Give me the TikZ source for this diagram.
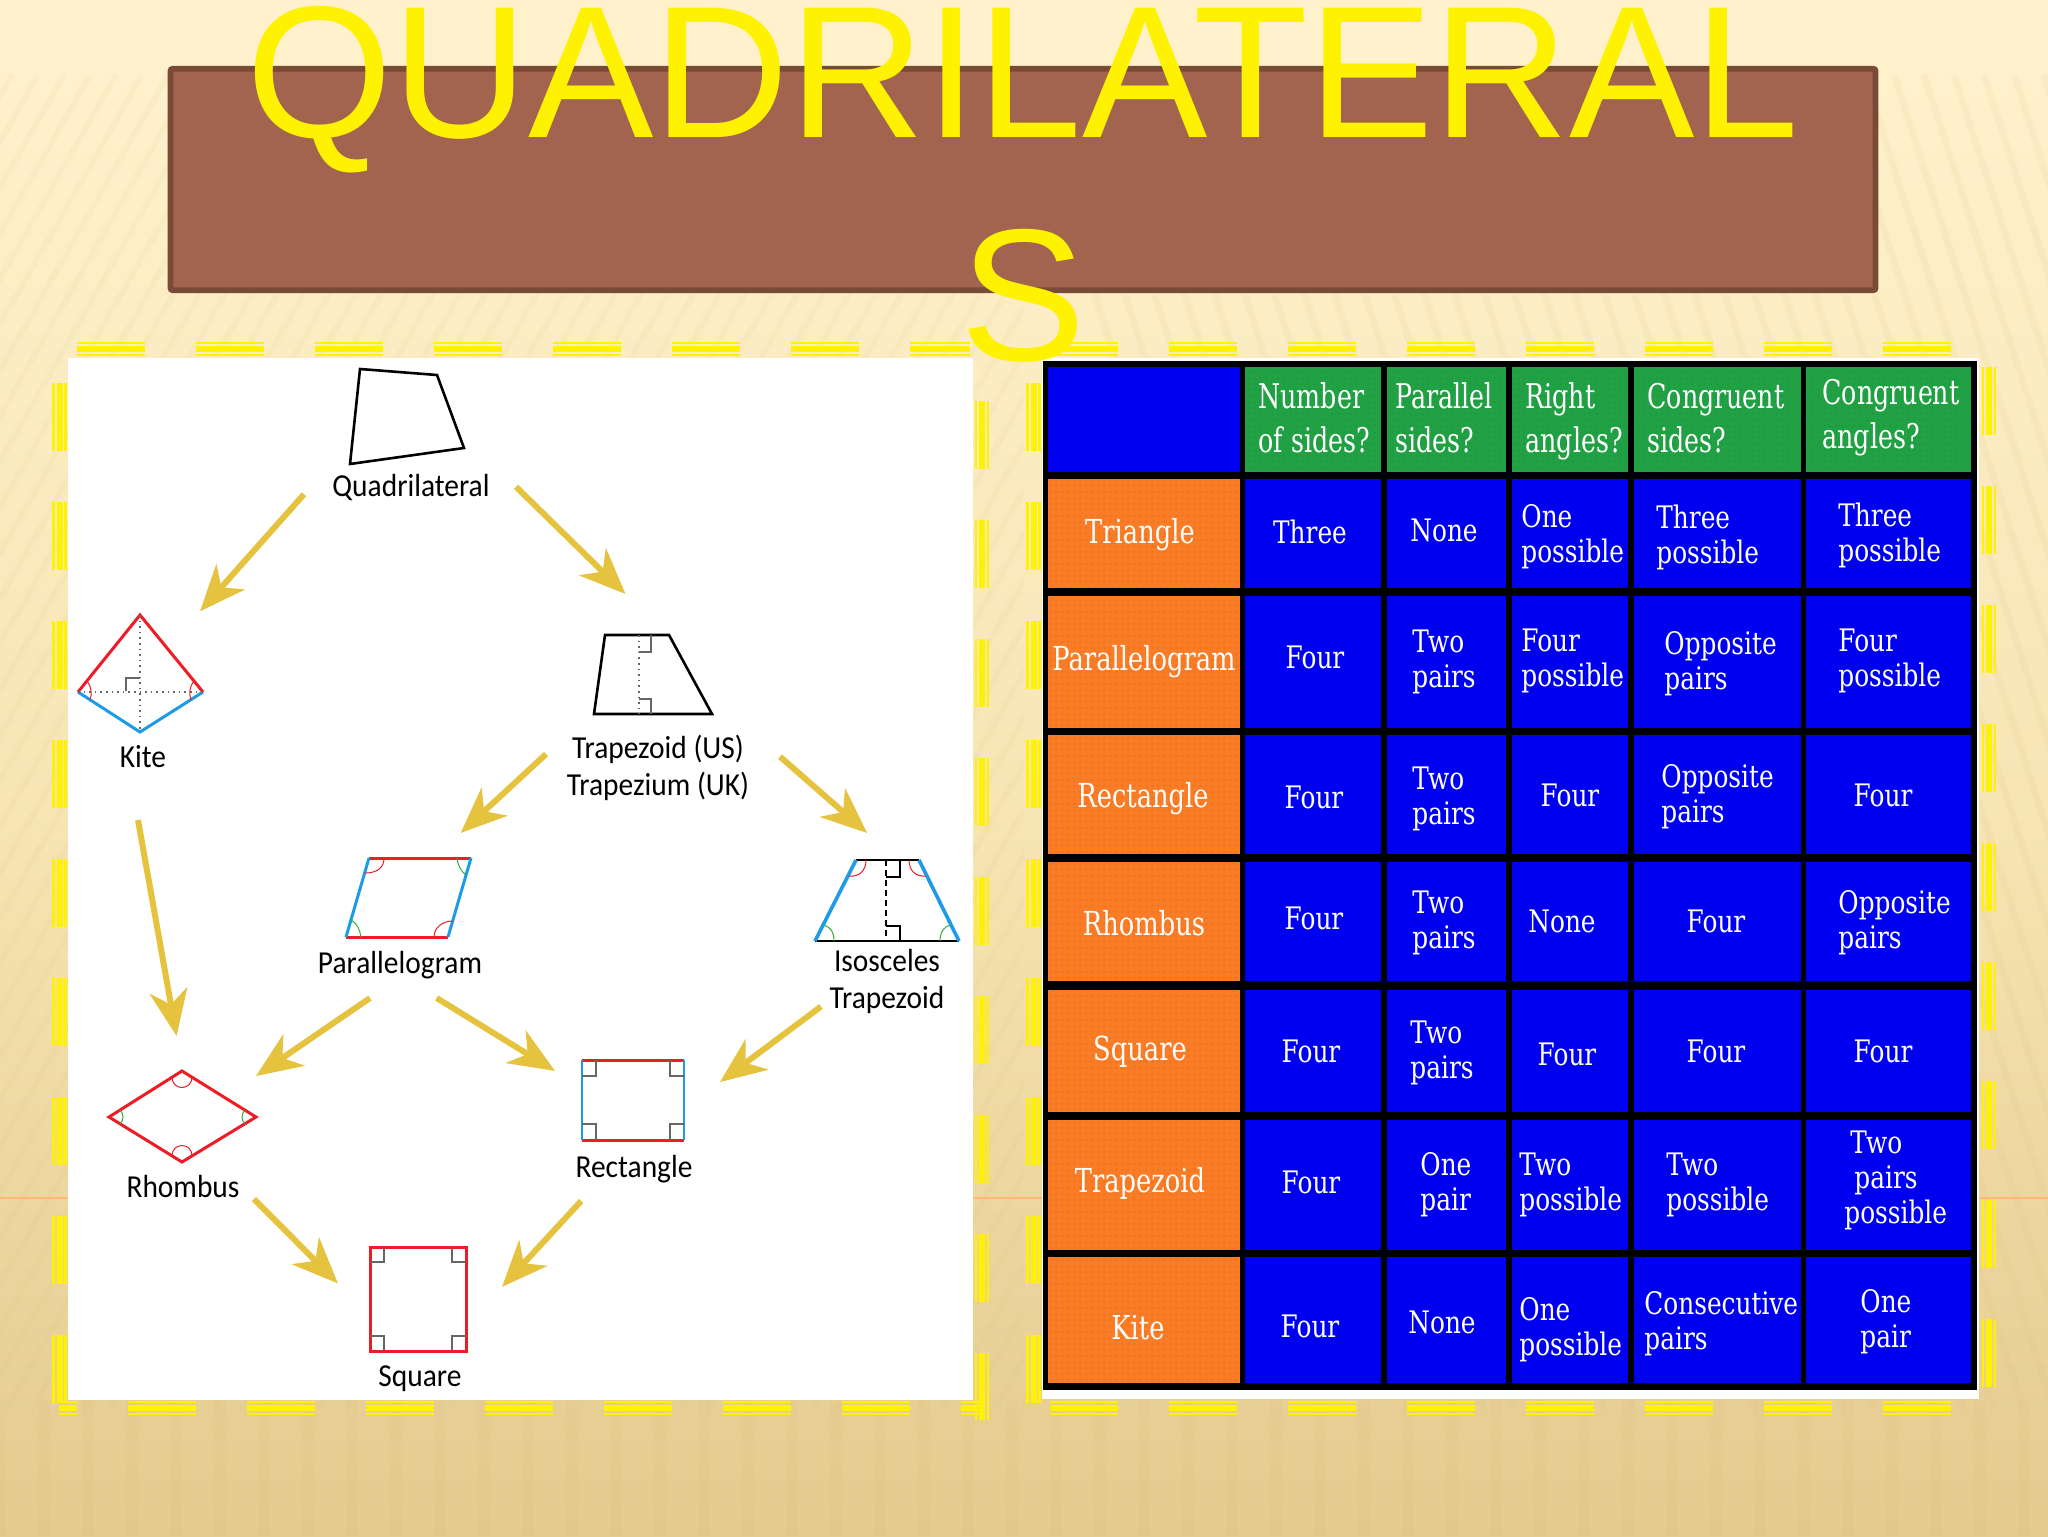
\documentclass[tikz,border=0pt]{standalone}
\usepackage{fontspec}
\usepackage{xcolor}
\usetikzlibrary{arrows.meta,patterns}
\setmainfont{Liberation Sans}
\newfontfamily\cellfont[FakeStretch=0.8]{DejaVu Serif}
\newfontfamily\headfont[FakeStretch=0.745]{DejaVu Serif}
\newfontfamily\sidefont[FakeStretch=0.78]{DejaVu Serif}
\newfontfamily\handfont[FakeStretch=0.92]{Carlito}
\definecolor{creamTop}{HTML}{FEF1CC}
\definecolor{creamMid}{HTML}{F7E5B4}
\definecolor{sandLow}{HTML}{E4CB8E}
\definecolor{stripeTan}{HTML}{D8BC78}
\definecolor{boxBrown}{HTML}{A2634F}
\definecolor{boxEdge}{HTML}{794A36}
\definecolor{cellBlue}{HTML}{0000F0}
\definecolor{cellGreen}{HTML}{22A045}
\definecolor{cellOrange}{HTML}{FA7C26}
\definecolor{flowGold}{HTML}{E6C33E}
\definecolor{edgeRed}{HTML}{EE1C25}
\definecolor{edgeBlue}{HTML}{1E9BE6}
\definecolor{arcGreen}{HTML}{2FAE3A}
\tikzset{
  figbox/.style={draw=none,inner sep=0pt,outer sep=0pt},
  flowarrow/.style={-{Stealth[length=23pt,width=19pt,inset=7pt]},line width=3pt,flowGold},
  framedash/.style={yellow,dash pattern=on 34pt off 25.5pt},
  gridcell/.style={fill=cellBlue,draw=none},
  celltext/.style={white,font=\cellfont\fontsize{15.5}{17.5}\selectfont,align=left,inner sep=0pt},
  headtext/.style={white,anchor=west,font=\headfont\fontsize{17}{22}\selectfont,align=left,inner sep=0pt},
  sidetext/.style={white,font=\sidefont\fontsize{16.5}{18}\selectfont,inner sep=0pt},
  handtext/.style={black,font=\handfont\fontsize{16}{18.5}\selectfont,align=center,inner sep=0pt},
  titletext/.style={yellow,font=\fontsize{94}{94}\selectfont,inner sep=0pt,anchor=base},
  redline/.style={edgeRed,line width=1.5pt},
  blueline/.style={edgeBlue,line width=1.5pt},
  blackline/.style={black,line width=1.3pt},
  redarc/.style={edgeRed,line width=.5pt},
  greenarc/.style={arcGreen,line width=.5pt},
  markline/.style={black!60,line width=.7pt},
}
\begin{document}
\begin{tikzpicture}[x=0.5pt,y=-0.5pt]
    \useasboundingbox (0,0) rectangle (2048,1536);
    \fill[creamTop] (0,0) rectangle (2048,72);
    \shade[top color=creamTop,bottom color=sandLow,middle color=creamMid] (0,72) rectangle (2048,1536);
    % sand stripes
    \begin{scope}
        \clip (0,75) rectangle (1024,1410);
        \foreach \sx in {-800,-774,...,1024} {
            \draw[stripeTan,opacity=.08,line width=3pt] (\sx,1410) -- ++(760,-1335);
        }
    \end{scope}
    \begin{scope}
        \clip (1024,75) rectangle (2048,1410);
        \foreach \sx in {1024,1054,...,2048} {
            \draw[stripeTan,opacity=.1,line width=3.5pt] (\sx,75) -- ++(430,1335);
        }
    \end{scope}
    \foreach \sx in {0,44,...,2040} {
        \draw[stripeTan,opacity=.12,line width=6pt] (\sx,1536) -- (\sx,1400);
    }
    \draw[orange!55,line width=.6pt] (0,1198) -- (2048,1198);

    % title box
    \node[figbox,fill=boxBrown,draw=boxEdge,line width=2.8pt,rounded corners=1pt,minimum width=852.5pt,minimum height=110.7pt] (titlebox) at (1023,179.5) {};

    % frames
    \foreach \off/\wid in {-6/1.4pt,0/3pt,6/1.4pt} {
        \draw[framedash,line width=\wid] (77,349+\off) -- (970,349+\off);
        \draw[framedash,dash phase=25pt,line width=\wid] (59,1408+\off) -- (985,1408+\off);
        \draw[framedash,line width=\wid] (59.5+\off,383) -- (59.5+\off,1415);
        \draw[framedash,line width=\wid] (982+\off,401) -- (982+\off,1420);
        \draw[framedash,line width=\wid] (1050,349+\off) -- (1960,349+\off);
        \draw[framedash,line width=\wid] (1050,1408+\off) -- (1960,1408+\off);
        \draw[framedash,line width=\wid] (1033.5+\off,383) -- (1033.5+\off,1415);
        \draw[framedash,line width=\wid] (1989+\off,367) -- (1989+\off,1410);
    }
    \fill[white] (68,358) rectangle (973,1400);
    \fill[white] (1042,358) rectangle (1979,1399);

    % left figures
    \draw[blackline] (360,369) -- (437,375) -- (464,448) -- (350,464) -- cycle;
    \node[handtext] (quadLabel) at (411,488) {Quadrilateral};
    \node[figbox,minimum width=106pt,minimum height=68pt] (quad) at (410,428) {};

    \draw[redline] (78,692) -- (140,615) -- (203,692);
    \draw[blueline] (78,692) -- (140,732) -- (203,692);
    \draw[black!60,dotted,line width=.8pt] (140,615) -- (140,732);
    \draw[black!60,dotted,line width=.8pt] (78,692) -- (203,692);
    \draw[markline] (126,691) -- (126,678) -- (140,678);
    \draw[redarc] (87,681) .. controls (92,688) and (92,694) .. (90,700);
    \draw[redarc] (194,681) .. controls (189,688) and (189,694) .. (191,700);
    \node[handtext] (kiteLabel) at (143,757) {Kite};
    \node[figbox,minimum width=62pt,minimum height=105.5pt] (kite) at (138,714.5) {};

    \draw[blackline] (605,635) -- (669,635) -- (712,714) -- (594,714) -- cycle;
    \draw[black!60,dotted,line width=.8pt] (639,635) -- (639,714);
    \draw[markline] (639,652) -- (651,652) -- (651,635);
    \draw[markline] (639,699) -- (651,699) -- (651,714);
    \node[handtext] (trapLabel) at (658,768) {Trapezoid (US)\\Trapezium (UK)};
    \node[figbox,minimum width=117pt,minimum height=103pt] (trap) at (663,697) {};

    \draw[redline] (369,858) -- (471,858);
    \draw[redline] (346,937) -- (448,937);
    \draw[blueline] (369,858) -- (346,937);
    \draw[blueline] (471,858) -- (448,937);
    \draw[redarc] (384,858) .. controls (384,866) and (379,873) .. (365,873);
    \draw[greenarc] (457,858) .. controls (458,866) and (461,871) .. (466,875);
    \draw[greenarc] (351,920) .. controls (357,923) and (360,930) .. (361,937);
    \draw[redarc] (434,937) .. controls (434,928) and (442,921) .. (453,921);
    \node[handtext] (paraLabel) at (400,965) {Parallelogram};
    \node[figbox,minimum width=75pt,minimum height=82.5pt] (para) at (405,915.5) {};

    \draw[blackline] (856,860) -- (919,860);
    \draw[blackline] (815,941) -- (959,941);
    \draw[edgeBlue,line width=1.8pt] (856,860) -- (815,941);
    \draw[edgeBlue,line width=1.8pt] (919,860) -- (959,941);
    \draw[black,densely dashed,line width=.6pt] (886,860) -- (886,941);
    \draw[black,line width=.7pt] (886,877) -- (900,877) -- (900,860);
    \draw[black,line width=.7pt] (886,926) -- (900,926) -- (900,941);
    \draw[redarc] (866,860) .. controls (866,870) and (860,877) .. (849,876);
    \draw[redarc] (909,860) .. controls (909,870) and (915,877) .. (926,876);
    \draw[greenarc] (823,925) .. controls (830,926) and (834,932) .. (834,941);
    \draw[greenarc] (951,925) .. controls (944,926) and (940,932) .. (940,941);
    \node[handtext] (isoLabel) at (887,981) {Isosceles\\Trapezoid};
    \node[figbox,minimum width=69.5pt,minimum height=93.5pt] (iso) at (890.5,926.5) {};

    \draw[redline] (182,1071) -- (256,1117) -- (182,1162) -- (109,1117) -- cycle;
    \draw[redarc] (172,1077) .. controls (172,1091) and (192,1091) .. (192,1077);
    \draw[redarc] (172,1156) .. controls (172,1142) and (192,1142) .. (192,1156);
    \draw[greenarc] (120,1110) .. controls (124,1114) and (124,1120) .. (120,1124);
    \draw[greenarc] (245,1110) .. controls (241,1114) and (241,1120) .. (245,1124);
    \node[handtext] (rhombLabel) at (183,1186) {Rhombus};
    \node[figbox,minimum width=78pt,minimum height=81.5pt] (rhomb) at (178,1117.5) {};

    \draw[redline] (582,1060) -- (684,1060);
    \draw[redline] (582,1140) -- (684,1140);
    \draw[edgeBlue,line width=1pt] (582,1060) -- (582,1140);
    \draw[edgeBlue,line width=1pt] (684,1060) -- (684,1140);
    \draw[markline] (596,1060) -- (596,1076) -- (582,1076);
    \draw[markline] (670,1060) -- (670,1076) -- (684,1076);
    \draw[markline] (596,1140) -- (596,1124) -- (582,1124);
    \draw[markline] (670,1140) -- (670,1124) -- (684,1124);
    \node[handtext] (rectLabel) at (634,1169) {Rectangle};
    \node[figbox,minimum width=82.5pt,minimum height=80.5pt] (rect) at (637.5,1120.5) {};

    \draw[redline] (370,1247) rectangle (466,1351);
    \draw[markline] (384,1247) -- (384,1262) -- (370,1262);
    \draw[markline] (452,1247) -- (452,1262) -- (466,1262);
    \draw[markline] (384,1351) -- (384,1336) -- (370,1336);
    \draw[markline] (452,1351) -- (452,1336) -- (466,1336);
    \node[handtext] (squareLabel) at (420,1379) {Square};
    \node[figbox,minimum width=82pt,minimum height=80pt] (square) at (420,1320) {};

    % arrows
    \draw[flowarrow] (quad.212.7) -- (kite.59.6);
    \draw[flowarrow] (quad.331.3) -- (trap.110.7);
    \draw[flowarrow] (trap.206.4) -- (para.56.3);
    \draw[flowarrow] (trap.333.6) -- (iso.104.7);
    \draw[flowarrow] (kite.south) -- (rhomb.91.4);
    \draw[flowarrow] (para.247.6) -- (rhomb.28);
    \draw[flowarrow] (para.291.8) -- (rect.149.6);
    \draw[flowarrow] (iso.229.5) -- (rect.25.6);
    \draw[flowarrow] (rhomb.313.7) -- (square.156.3);
    \draw[flowarrow] (rect.235.4) -- (square.22.5);

    % table
    \fill[black] (1043,361) rectangle (1977,1390);
    \foreach \rname/\ya/\yb in {0/367/472,1/479/588,2/596/728,3/735/854,4/862/981,5/990/1112,6/1120/1250,7/1257/1383} {
        \foreach \cname/\xa/\xb in {0/1048/1240,1/1245/1381,2/1387/1506,3/1512/1628,4/1634/1801,5/1806/1971} {
            \node[figbox,gridcell,minimum width={(\xb-\xa)*0.5pt},minimum height={(\yb-\ya)*0.5pt}] (cell\rname\cname) at ({(\xa+\xb)/2},{(\ya+\yb)/2}) {};
        }
    }
    \foreach \cname in {1,...,5} {
        \fill[cellGreen] (cell0\cname.north west) rectangle (cell0\cname.south east);
        \fill[pattern=dots,pattern color=green!60!black,opacity=.35] (cell0\cname.north west) rectangle (cell0\cname.south east);
    }
    \foreach \rname in {1,...,7} {
        \fill[cellOrange] (cell\rname0.north west) rectangle (cell\rname0.south east);
        \fill[pattern=dots,pattern color=orange!75!black,opacity=.35] (cell\rname0.north west) rectangle (cell\rname0.south east);
    }

    % table head
    \node[headtext] (headA) at (1258,418) {Number\\of sides?};
    \node[headtext] (headB) at (1395,418) {Parallel\\sides?};
    \node[headtext] (headC) at (1525,421) {Right\\angles?};
    \node[headtext] (headD) at (1647,418) {Congruent\\sides?};
    \node[headtext] (headE) at (1822,418) {Congruent\\angles?};

    % table rows
    \foreach \x/\y/\t in {1140/535/Triangle,1144/662/Parallelogram,1143/799/Rectangle,1144/923/Rhombus,1140/1052/Square,1140/1183/Trapezoid,1138/1328/Kite} {
        \node[sidetext] (side\t) at (\x,\y) {\t};
    }
    \foreach \x/\y/\t in {1310/532/Three,1444/530/None,1315/657/Four,1314/797/Four,1570/795/Four,1883/795/Four,1314/918/Four,1562/921/None,1716/921/Four,1311/1051/Four,1567/1054/Four,1716/1051/Four,1883/1051/Four,1311/1182/Four,1310/1326/Four,1442/1322/None} {
        \node[celltext] (word\x\y) at (\x,\y) {\t};
    }
    \foreach \x/\y/\ta/\tb in {1521/537/One/possible,1656/537/Three/possible,1838/535/Three/possible,1412/662/Two/pairs,1521/661/Four/possible,1664/664/Opposite/pairs,1838/661/Four/possible,1412/799/Two/pairs,1661/797/Opposite/pairs,1412/923/Two/pairs,1838/923/Opposite/pairs,1410/1053/Two/pairs,1420/1185/One/pair,1519/1185/Two/possible,1666/1185/Two/possible,1519/1330/One/possible,1644/1324/Consecutive/pairs,1860/1322/One/pair} {
        \node[celltext,anchor=west] (pair\x\y) at (\x,\y) {\ta\\\tb};
    }
    \node[celltext,anchor=west] (threeLines) at (1844,1180) {\hspace{3pt}Two\\\hspace{5pt}pairs\\possible};

    % title
    \node[titletext] (titleA) at (1023,137) {QUADRILATERAL};
    \node[titletext] (titleB) at (1023,360) {S};
\end{tikzpicture}
\end{document}
